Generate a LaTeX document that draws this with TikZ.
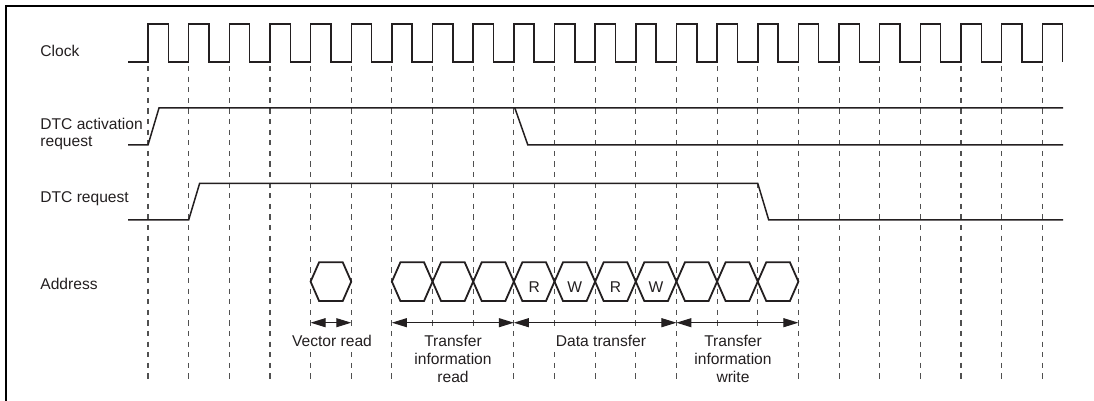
\documentclass[tikz,border=0pt]{standalone}
\usepackage{fontspec}
\setmainfont{Liberation Sans}
\usetikzlibrary{arrows.meta}
\definecolor{tdInk}{RGB}{35,31,32}
\definecolor{tdGrid}{RGB}{80,80,80}
\newcommand{\tickx}[1]{(148+40.65*(#1))}
\tikzset{
  sigline/.style={line width=0.75pt, tdInk, line join=miter},
  gridline/.style={line width=0.55pt, tdGrid, dash pattern=on 2.6pt off 2.7pt},
  hexbox/.style={line width=0.9pt, tdInk, line join=miter},
  spanarrow/.style={{Triangle[length=7.5pt,width=4.5pt]}-{Triangle[length=7.5pt,width=4.5pt]},
                    line width=0.5pt, tdInk},
  siglabel/.style={inner sep=0pt, align=left, text=tdInk},
  spanlabel/.style={fill=white, inner sep=2pt, align=center, anchor=north, text=tdInk},
}

\begin{document}
\begin{tikzpicture}[x=0.5pt, y=-0.5pt, font=\fontsize{7.8}{8.9}\selectfont]
\useasboundingbox (0,0) rectangle (1094,401);

% frame (open at right and bottom)
\draw[line width=1.1pt, black] (6,401) -- (6,6) -- (1094,6);

% =================================================================
% clock-edge grid
% =================================================================
\foreach \k in {0,...,22} {
  \coordinate (top\k)  at ({\tickx{\k}},66);
  \coordinate (bot\k)  at ({\tickx{\k}},379);
  \coordinate (span\k) at ({\tickx{\k}},322.7);
  \draw[gridline] (top\k) -- (bot\k);
}

% =================================================================
% signal names
% =================================================================
\node[siglabel, anchor=base west]  (lclk) at (40,56.7)  {Clock};
\node[siglabel, anchor=north west] (lact) at (40,117.3) {DTC activation\\request};
\node[siglabel, anchor=base west]  (lreq) at (40,202.6) {DTC request};
\node[siglabel, anchor=base west]  (ladr) at (40,290)   {Address};

% =================================================================
% waveforms
% =================================================================
% clock
\draw[sigline] (128,62)
  \foreach \k in {0,...,22} {
    -- ({\tickx{\k}},62) -- ({\tickx{\k}},24)
    -- ({\tickx{\k}+20.3},24) -- ({\tickx{\k}+20.3},62)
  };

% DTC activation request
\draw[sigline] (128,145) -- ({\tickx{0}},145) -- ({\tickx{0}+11},108) -- (1063,108);
\draw[sigline] ({\tickx{9}+1},108) -- ({\tickx{9}+14},145) -- (1063,145);

% DTC request
\draw[sigline] (128,220) -- ({\tickx{1}},220) -- ({\tickx{1}+11},183.3)
  -- ({\tickx{15}},183.3) -- ({\tickx{15}+11},220) -- (1063,220);

% address bus cycles
\foreach \a in {4,6,7,...,15} {
  \draw[hexbox] ({\tickx{\a}},281.6) -- ({\tickx{\a}+8.5},262.3) -- ({\tickx{\a+1}-8.5},262.3)
    -- ({\tickx{\a+1}},281.6) -- ({\tickx{\a+1}-8.5},301) -- ({\tickx{\a}+8.5},301) -- cycle;
}
\foreach \k/\t in {9/R,10/W,11/R,12/W}
  \node[text=tdInk, inner sep=0pt] (rw\k) at ({\tickx{\k}+20.3},287.3) {\t};

% =================================================================
% phase spans
% =================================================================
\draw[spanarrow] (span4)  -- (span5);
\draw[spanarrow] (span6)  -- (span9);
\draw[spanarrow] (span9)  -- (span13);
\draw[spanarrow] (span13) -- (span16);

\node[spanlabel] (vecrd)   at (332,331) {Vector read};
\node[spanlabel] (tiread)  at (453,331) {Transfer\\information\\read};
\node[spanlabel] (dxfer)   at (601,331) {Data transfer};
\node[spanlabel] (tiwrite) at (733,331) {Transfer\\information\\write};

\end{tikzpicture}
\end{document}
